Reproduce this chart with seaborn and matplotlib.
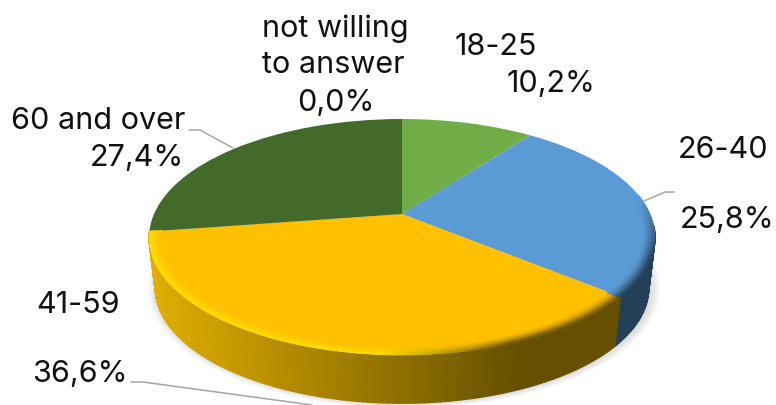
"""3D pie - respondents by age group"""
import numpy as np
import matplotlib
matplotlib.use('Agg')
import matplotlib.pyplot as plt
import seaborn as sns
from matplotlib.collections import PolyCollection
from matplotlib.colors import to_rgb
from matplotlib.transforms import Transform

age_groups = ['18-25', '26-40', '41-59', '60 and over', 'not willing to answer']
shares = [10.2, 25.8, 36.6, 27.4, 0.0]
value_labels = ['10,2%', '25,8%', '36,6%', '27,4%', '0,0%']
slice_colors = ['#70AD47', '#5B9BD5', '#FFC000', '#436A2B', '#264478']

# perspective of the pie disc, in pixels
CX, CY = 402, 214
RX, RY = 248, 113.5
TILT = 0.195
WALL_DROP = 51.6
WALL_SCALE = 0.975
WALL_BACK = 96  # the wall is hidden behind the disc before this angle
LEADER = '#A6A6A6'
WALL_BLUE = np.array(to_rgb('#243F58'))
WALL_LEFT = np.array(to_rgb('#E0AE00'))
WALL_RIGHT = np.array(to_rgb('#665000'))


def project(u, v, scale=1.0, drop=0.0):
    w = 1 + TILT * v
    return CX + scale * RX * u / w, CY + drop - scale * RY * v / w


class DiscProjection(Transform):
    input_dims = output_dims = 2
    has_inverse = False

    def transform_non_affine(self, values):
        values = np.asarray(values)
        x, y = project(values[:, 0], values[:, 1])
        return np.column_stack([x, y])


def rim(theta, r=1.0, scale=1.0, drop=0.0):
    rad = np.radians(theta)
    return project(r * np.sin(rad), r * np.cos(rad), scale, drop)


def yellow_wall(x):
    t = np.clip((x - 150) / 370, 0, 1)
    return WALL_LEFT + (WALL_RIGHT - WALL_LEFT) * t


def draw_wall(ax, start, end, color_fn):
    thetas = np.arange(start, end + 1, 1.0)
    polys, colors = [], []
    for a, b in zip(thetas[:-1], thetas[1:]):
        pair = np.array([a, b])
        x0, y0 = rim(pair)
        x1, y1 = rim(pair, scale=WALL_SCALE, drop=WALL_DROP)
        polys.append(np.column_stack([np.r_[x0, x1[::-1]], np.r_[y0, y1[::-1]]]))
        colors.append(color_fn(x0.mean()))
    ax.add_collection(PolyCollection(polys, facecolors=colors, edgecolors=colors,
                                     linewidths=1.2, zorder=3))


def draw_bevel(ax, start, end, face, edge_fn):
    face = np.array(to_rgb(face))
    thetas = np.arange(start, end + 1, 1.0)
    levels = np.linspace(0.95, 1.0, 9)
    polys, colors = [], []
    for r0, r1 in zip(levels[:-1], levels[1:]):
        t = ((r0 + r1) / 2 - levels[0]) / (levels[-1] - levels[0])
        for a, b in zip(thetas[:-1], thetas[1:]):
            pair = np.array([a, b])
            x0, y0 = rim(pair, r0)
            x1, y1 = rim(pair, r1)
            polys.append(np.column_stack([np.r_[x0, x1[::-1]], np.r_[y0, y1[::-1]]]))
            edge, amount = edge_fn(x0.mean(), a)
            colors.append(face + (edge - face) * amount * t ** 1.6)
    ax.add_collection(PolyCollection(polys, facecolors=colors, edgecolors=colors,
                                     linewidths=0.5, zorder=5))


def yellow_edge(x, theta):
    bright = np.array(to_rgb('#FFE000'))
    t = np.clip((x - 380) / 130, 0, 1)
    # bright lip on the left fades into a dark lip on the right
    return bright + (WALL_RIGHT - bright) * t, 1.0


def blue_edge(x, theta):
    return WALL_BLUE, np.clip((theta - 80) / 30, 0, 1)


sns.set_theme(style='white')
plt.rcParams['font.family'] = ['Inter', 'DejaVu Sans']

fig = plt.figure(figsize=(7.76, 4.05), dpi=100)
ax = fig.add_axes([0, 0, 1, 1])

wedges, _ = ax.pie(shares, colors=sns.color_palette(slice_colors), startangle=90,
                   counterclock=False, wedgeprops={'linewidth': 0})
projection = DiscProjection() + ax.transData
for wedge in wedges:
    wedge.set_transform(projection)
    wedge.set_zorder(4)
ax.set_aspect('auto')
ax.set_xlim(0, 776)
ax.set_ylim(405, 0)
ax.axis('off')

edges = np.cumsum([0] + shares) * 3.6

# soft shadow under the disc
ring = np.linspace(0, 360, 361)
for grow in np.linspace(1.04, 0.99, 10):
    sx, sy = rim(ring, scale=WALL_SCALE * grow, drop=WALL_DROP - 1)
    ax.fill(sx + 2, sy + 1, color='#555555', alpha=0.028, lw=0, zorder=1)

draw_wall(ax, max(edges[1], WALL_BACK), edges[2], lambda x: WALL_BLUE)
draw_wall(ax, edges[2], edges[3], yellow_wall)
draw_bevel(ax, edges[2], edges[3], slice_colors[2], yellow_edge)
draw_bevel(ax, 80, edges[2], slice_colors[1], blue_edge)

# leader lines
ax.plot([189, 200, 233], [130, 130, 148], color=LEADER, lw=1.1, zorder=2)
ax.plot([644, 665, 674], [201, 192, 192], color=LEADER, lw=1.1, zorder=2)
ax.plot([131, 143, 312], [382, 382, 405], color=LEADER, lw=1.1, zorder=2)

text_kw = {'fontsize': 22, 'color': '#111111', 'va': 'baseline', 'ha': 'left', 'zorder': 6}
ax.text(262, 37, 'not willing', **text_kw)
ax.text(262, 73, 'to answer', **text_kw)
ax.text(297, 111, value_labels[4], **text_kw)
ax.text(455, 55, age_groups[0], **text_kw)
ax.text(507, 92, value_labels[0], **text_kw)
ax.text(678, 158, age_groups[1], **text_kw)
ax.text(680, 228, value_labels[1], **text_kw)
ax.text(11, 129, age_groups[3], **text_kw)
ax.text(90, 166, value_labels[3], **text_kw)
ax.text(36, 313, age_groups[2], **text_kw)
ax.text(32, 382, value_labels[2], **text_kw)

plt.savefig('out.png', dpi=100)
plt.close(fig)
